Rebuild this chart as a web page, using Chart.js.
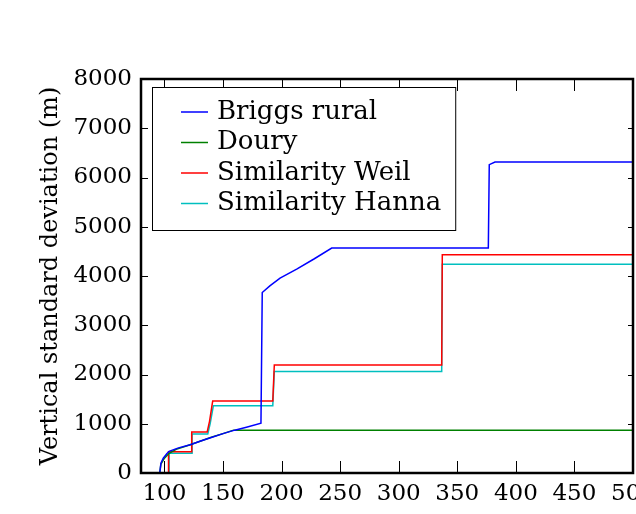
<!DOCTYPE html>
<html>
<head>
<meta charset="utf-8">
<script src="https://cdn.jsdelivr.net/npm/chart.js@4"></script>
<style>
  body { margin: 0; background: #fff; }
</style>
</head>
<body>
<canvas id="chart" width="636" height="514"></canvas>
<script>
// tick labels
const xTicks = [100, 150, 200, 250, 300, 350, 400, 450, 500];
const yTicks = [0, 1000, 2000, 3000, 4000, 5000, 6000, 7000, 8000];

const seriesNames = ['Briggs rural', 'Doury', 'Similarity Weil', 'Similarity Hanna'];
const seriesColors = ['#0000ff', '#008000', '#ff0000', '#00bfbf'];

// Briggs rural
const briggsX = [96, 97, 99, 102, 104, 112, 122, 131, 140, 150, 160, 170, 182.4, 183.5, 190, 198.7, 212.9, 228, 242.8, 376.5, 377.3, 382.2, 500];
const briggsY = [0, 200, 300, 390, 440, 510, 575, 650, 720, 800, 870, 930, 1010, 3665, 3800, 3957, 4140, 4350, 4567, 4567, 6260, 6315, 6315];

// Doury
const douryX = [96, 97, 100, 104, 110, 122, 131, 140, 150, 159, 500];
const douryY = [0, 180, 300, 400, 480, 575, 650, 725, 800, 870, 870];

// Similarity Weil
const weilX = [103.5, 103.5, 123.3, 123.3, 136.5, 138.5, 141.2, 192.5, 193.8, 336.7, 337.2, 500];
const weilY = [0, 430, 430, 835, 835, 1050, 1460, 1460, 2195, 2195, 4430, 4430];

// Similarity Hanna
const hannaX = [104, 104, 123.6, 123.6, 137, 139, 141.8, 192.5, 193.8, 336.7, 337.2, 500];
const hannaY = [0, 400, 400, 790, 790, 1000, 1368, 1368, 2060, 2060, 4240, 4240];

const toPoints = (xs, ys) => xs.map((x, i) => ({ x: x, y: ys[i] }));
const seriesPoints = [
    toPoints(briggsX, briggsY),
    toPoints(douryX, douryY),
    toPoints(weilX, weilY),
    toPoints(hannaX, hannaY)
];

const FONT = 'DejaVu Serif';

// frame, inward ticks and the legend box, matplotlib style
const framePlugin = {
    id: 'frame',
    afterDraw(chart) {
        const { ctx, chartArea: a, scales } = chart;
        ctx.save();
        ctx.strokeStyle = '#000';
        ctx.lineWidth = 1;
        scales.x.ticks.forEach(t => {
            const px = Math.round(scales.x.getPixelForValue(t.value)) + 0.5;
            ctx.beginPath();
            ctx.moveTo(px, a.bottom); ctx.lineTo(px, a.bottom - 12);
            ctx.moveTo(px, a.top); ctx.lineTo(px, a.top + 12);
            ctx.stroke();
        });
        scales.y.ticks.forEach(t => {
            const py = Math.round(scales.y.getPixelForValue(t.value)) + 0.5;
            ctx.beginPath();
            ctx.moveTo(a.left, py); ctx.lineTo(a.left + 7, py);
            ctx.moveTo(a.right, py); ctx.lineTo(a.right - 5, py);
            ctx.stroke();
        });
        ctx.lineWidth = 2.5;
        ctx.strokeRect(a.left, a.top, a.right - a.left, a.bottom - a.top);

        // legend
        ctx.font = '26px "' + FONT + '"';
        const boxL = a.left + 11, boxT = a.top + 8;
        const textL = boxL + 65;
        const maxW = Math.max(...chart.data.datasets.map(d => ctx.measureText(d.label).width));
        const boxW = textL - boxL + maxW + 14;
        const rowH = 30.5;
        const boxH = 143;
        ctx.fillStyle = '#fff';
        ctx.fillRect(boxL, boxT, boxW, boxH);
        ctx.lineWidth = 1;
        ctx.strokeStyle = '#000';
        ctx.strokeRect(boxL + 0.5, boxT + 0.5, boxW, boxH);
        ctx.textBaseline = 'middle';
        chart.data.datasets.forEach((d, i) => {
            const cy = boxT + 25 + i * rowH;
            ctx.strokeStyle = d.borderColor;
            ctx.lineWidth = 1.5;
            ctx.beginPath();
            ctx.moveTo(boxL + 29, cy); ctx.lineTo(boxL + 56, cy);
            ctx.stroke();
            ctx.fillStyle = '#000';
            ctx.fillText(d.label, textL, cy);
        });
        ctx.restore();
    }
};

new Chart(document.getElementById('chart'), {
    type: 'line',
    data: {
        datasets: seriesNames.map((name, i) => ({
            label: name,
            data: seriesPoints[i],
            borderColor: seriesColors[i],
            backgroundColor: seriesColors[i],
            borderWidth: 1.5,
            pointRadius: 0,
            tension: 0,
            fill: false
        }))
    },
    options: {
        responsive: false,
        animation: false,
        layout: { padding: { top: 79, right: 3, bottom: 0, left: 0 } },
        plugins: {
            legend: { display: false },
            tooltip: { enabled: false }
        },
        scales: {
            x: {
                type: 'linear',
                min: 80,
                max: 500,
                afterBuildTicks: s => { s.ticks = xTicks.map(v => ({ value: v })); },
                afterFit: s => { s.height = 41; s.paddingLeft = 0; s.paddingRight = 0; },
                grid: { display: false, drawTicks: false },
                border: { display: false },
                ticks: { color: '#000', padding: 7, maxRotation: 0, callback: v => String(v), font: { family: FONT, size: 23 } }
            },
            y: {
                min: 0,
                max: 8000,
                afterBuildTicks: s => { s.ticks = yTicks.map(v => ({ value: v })); },
                afterFit: s => { s.width = 141; s.paddingTop = 0; s.paddingBottom = 0; },
                grid: { display: false, drawTicks: false },
                border: { display: false },
                ticks: { color: '#000', padding: 9, callback: v => String(v), font: { family: FONT, size: 23 } },
                title: {
                    display: true,
                    text: 'Vertical standard deviation (m)',
                    color: '#000',
                    padding: { top: 36, bottom: 0 },
                    font: { family: FONT, size: 24 }
                }
            }
        }
    },
    plugins: [framePlugin]
});
</script>
</body>
</html>
